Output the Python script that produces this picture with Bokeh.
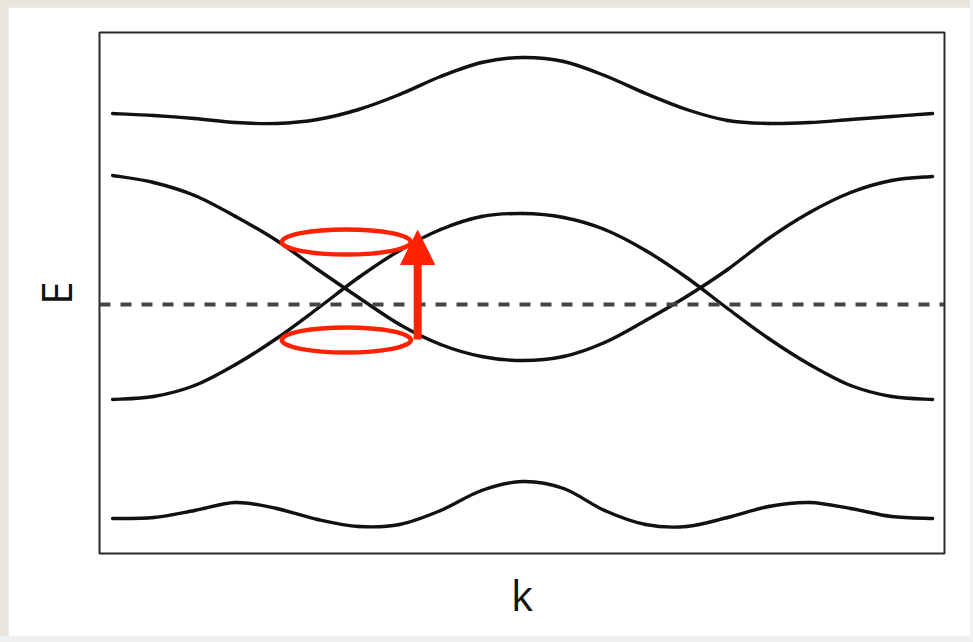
from bokeh.plotting import figure
from bokeh.models import (Range1d, Span, Arrow, NormalHead, ColumnDataSource,
                          LinearAxis, FixedTicker)
from bokeh.layouts import column
from bokeh.embed import file_html
from bokeh.resources import INLINE

# Crystal momentum grid (reduced units across the zone)
k = [-1.0, -0.9, -0.8, -0.7, -0.6, -0.5, -0.4, -0.3, -0.2, -0.1, 0.0,
     0.1, 0.2, 0.3, 0.4, 0.5, 0.6, 0.7, 0.8, 0.9, 1.0]

# Band energies (arbitrary units, Fermi level at 0)
band_top = [1.91, 1.89, 1.86, 1.82, 1.81, 1.85, 1.95, 2.10, 2.28, 2.42, 2.47,
            2.43, 2.29, 2.11, 1.95, 1.84, 1.81, 1.82, 1.85, 1.88, 1.91]
band_upper = [1.29, 1.22, 1.09, 0.88, 0.64, 0.35, 0.07, -0.20, -0.40, -0.52, -0.56,
              -0.52, -0.38, -0.16, 0.08, 0.35, 0.66, 0.92, 1.12, 1.24, 1.28]
band_lower = [-0.95, -0.92, -0.81, -0.60, -0.34, -0.04, 0.27, 0.54, 0.75, 0.88, 0.91,
              0.87, 0.75, 0.54, 0.27, -0.04, -0.34, -0.60, -0.81, -0.92, -0.95]
band_bottom = [-2.14, -2.13, -2.06, -1.98, -2.04, -2.15, -2.22, -2.20, -2.06, -1.86, -1.77,
               -1.84, -2.06, -2.20, -2.22, -2.13, -2.02, -1.98, -2.04, -2.12, -2.14]

fermi_level = 0.0

# Fermi-surface pockets (centre k, centre E, width in k, height in E)
pocket_k = [-0.43, -0.43]
pocket_E = [0.625, -0.355]
pocket_w = [0.315, 0.315]
pocket_h = [0.25, 0.25]

# Interband transition arrow (k, E_start, E_end)
transition_k = -0.256
transition_E = [-0.35, 0.74]

RED = "#ff2200"
INK = "#111111"


def smooth_segments(xs, ys):
    """Cubic Bezier pieces (Catmull-Rom tangents) passing through every point."""
    n = len(xs)
    seg = dict(x0=[], y0=[], x1=[], y1=[], cx0=[], cy0=[], cx1=[], cy1=[])
    for i in range(n - 1):
        a = max(i - 1, 0)
        b = min(i + 2, n - 1)
        seg["x0"].append(xs[i]); seg["y0"].append(ys[i])
        seg["x1"].append(xs[i + 1]); seg["y1"].append(ys[i + 1])
        seg["cx0"].append(xs[i] + (xs[i + 1] - xs[a]) / 6)
        seg["cy0"].append(ys[i] + (ys[i + 1] - ys[a]) / 6)
        seg["cx1"].append(xs[i + 1] - (xs[b] - xs[i]) / 6)
        seg["cy1"].append(ys[i + 1] - (ys[b] - ys[i]) / 6)
    return ColumnDataSource(seg)


p = figure(width=962, height=629, output_backend="svg", toolbar_location=None,
           x_axis_type=None, y_axis_type=None,
           x_range=Range1d(-1.032, 1.029), y_range=Range1d(-2.49, 2.72),
           min_border_left=91, min_border_right=26, min_border_top=25,
           min_border_bottom=83)
p.grid.visible = False
p.outline_line_color = "#2a2a2a"
p.outline_line_width = 2
p.background_fill_color = "white"
p.border_fill_color = "white"

# Bare axes that only carry the k and E titles
for place, title, standoff in (("below", "k", 12), ("left", "E", 16)):
    ax = LinearAxis(ticker=FixedTicker(ticks=[]), axis_label=title,
                    axis_line_color=None, major_tick_line_color=None,
                    minor_tick_line_color=None, major_label_text_font_size="0px",
                    axis_label_text_font="Open Sans", axis_label_text_font_size="42px",
                    axis_label_text_font_style="normal", axis_label_text_color=INK,
                    axis_label_standoff=standoff)
    p.add_layout(ax, place)

p.add_layout(Span(location=fermi_level, dimension="width", line_color="#444444",
                  line_width=4, line_dash="11 10"))

for band in (band_top, band_upper, band_lower, band_bottom):
    p.bezier(x0="x0", y0="y0", x1="x1", y1="y1", cx0="cx0", cy0="cy0",
             cx1="cx1", cy1="cy1", source=smooth_segments(k, band),
             line_color=INK, line_width=3.4, line_cap="round")

pockets = ColumnDataSource(dict(x=pocket_k, y=pocket_E, w=pocket_w, h=pocket_h))
p.ellipse(x="x", y="y", width="w", height="h", source=pockets,
          fill_color=None, line_color=RED, line_width=4.5)

p.add_layout(Arrow(x_start=transition_k, y_start=transition_E[0],
                   x_end=transition_k, y_end=transition_E[1],
                   line_color=RED, line_width=8,
                   end=NormalHead(size=34, fill_color=RED, line_color=RED, line_width=1)))

page = column(p, styles={"background-color": "#e9e6df",
                         "padding": "7px 0px 0px 8px",
                         "border-right": "3px solid #f2f4f3",
                         "border-bottom": "6px solid #eef1f0"})

open("out.html", "w").write(file_html(page, INLINE))
